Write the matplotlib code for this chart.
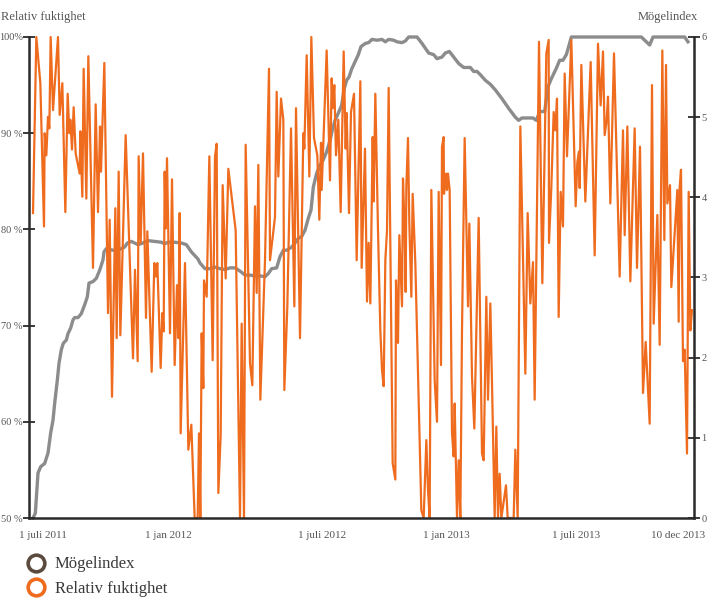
import numpy as np
import matplotlib.pyplot as plt
from matplotlib.lines import Line2D

plt.rcParams['font.family'] = ['Liberation Serif', 'DejaVu Serif']

# dagar räknat från 1 juli 2011 (ungefärlig skala)
rf_dag = [
    -15, -10, -4, 1.5, 2.5, 5, 7.5, 9.5, 11.5, 15, 22.5, 25, 29, 33.5, 37, 39.5, 41, 43.5, 46, 49,
    55, 56, 59, 61, 65, 68, 75, 79, 82.5, 85.5, 87, 92, 97.5, 100, 103.5, 108.5, 110.5, 113.5, 116, 124,
    135, 138, 142, 143.5, 146.5, 150, 154.5, 156.5, 163, 167, 169.5, 171.5, 176.5, 179, 181, 182.5, 184, 186, 190.5, 193.5,
    197.5, 201, 203, 205, 206.5, 213, 218, 222.5, 227.5,
    232, 234, 236, 238, 240.5, 241.5, 245.5, 249.5, 254.5, 258, 260.5, 263, 266.5, 269.5, 274, 278, 283, 289, 295.5, 298,
    301.5, 304, 310.5, 314, 318, 320.5, 323, 326, 333, 339, 340.5, 348, 350.5, 353, 357, 360.5, 362, 366.5, 372, 377,
    379.5, 385.5, 390.5, 392, 395.5, 399.5, 402.5, 406.5, 411.5, 414.5, 417, 418, 425.5, 430.5, 433, 434.5, 437, 439.5, 443, 446.5,
    451, 454, 455.5, 459, 462, 466.5, 470.5, 476, 478, 483,
    486, 488.5, 491, 494.5, 496, 498.5, 502.5, 506, 508.5, 511, 513.5, 516, 518.5, 524.5, 528.5, 529.5, 532.5, 534.5, 538.5, 540,
    542.5, 544, 545, 547.5, 549.5, 552.5, 554.5, 558.5, 567.5, 571, 575, 577.5, 580, 582.5, 587.5, 591, 593.5, 597, 598.5, 601,
    601.5, 604.5, 606, 607.5, 610, 613.5, 616, 617.5, 621, 623.5, 626, 628.5, 632.5, 637.5, 639.5, 643.5, 647, 653.5, 658.5, 661,
    665, 667.5, 671, 673.5, 677.5, 680, 682.5, 685, 687.5, 694.5, 697, 706, 708.5, 712, 716, 723.5, 727, 731,
    735, 737.5, 744, 749, 755, 758.5, 759, 762.5, 766, 768.5, 771, 773.5, 776.5, 780, 782.5, 786, 792.5, 799, 801.5, 804,
    805, 807.5, 813.5, 821.5, 827.5, 832.5, 836.5, 840, 842.5, 845.5, 847.5, 851, 856.5, 865, 870, 872.5, 876.5, 881, 887.5, 891,
    895.5, 900, 904, 910, 913.5, 916, 921.5, 925, 929, 932, 934.5, 936.5, 940.5, 942.5, 951.5, 953.5, 955, 957, 960, 962.5,
    966, 968.5, 971, 973.5,
]
rf_varde = [
    81.7, 100, 95.2, 80.3, 90.0, 87.7, 91.7, 90.5, 100, 92.4, 100, 91.9, 95.2, 81.8, 94.1, 90.0, 91.4, 88.3, 92.7, 87.9,
    85.8, 90.2, 83.4, 96.7, 83.2, 98.0, 76.0, 93.0, 81.8, 90.7, 86.0, 97.3, 71.3, 81.0, 62.6, 82.2, 68.7, 86.0, 69.0, 89.8,
    66.6, 75.8, 66.3, 87.6, 78.6, 87.9, 70.8, 79.8, 65.2, 76.5, 75.1, 76.5, 65.6, 71.3, 69.4, 86.0, 80.1, 87.4, 69.2, 85.2,
    65.9, 74.2, 68.7, 81.7, 58.8, 76.5, 57.1, 59.7, 50,
    50, 58.8, 50, 69.2, 63.5, 74.7, 73.0, 87.6, 66.4, 87.6, 88.9, 52.6, 58.6, 84.6, 74.9, 86.3, 83.4, 79.9, 50, 70.2,
    50, 88.8, 66.1, 63.8, 82.4, 73.4, 86.7, 62.3, 76.8, 96.7, 76.8, 81.3, 94.3, 85.5, 93.6, 91.4, 63.3, 72.0, 90.5, 72.0,
    92.6, 68.7, 90.0, 88.4, 98.1, 85.5, 100, 89.5, 87.7, 81.0, 89.0, 84.1, 98.6, 85.1, 95.7, 92.6, 95.0, 87.7, 91.4, 81.8,
    98.5, 88.4, 92.1, 81.7, 92.2, 94.1, 76.8, 95.4, 76.0, 88.4,
    72.5, 78.6, 72.3, 89.6, 82.9, 94.1, 79.9, 69.5, 65.4, 63.7, 76.8, 79.9, 94.7, 55.7, 54.0, 74.7, 68.2, 79.4, 72.0, 85.3,
    79.8, 73.5, 84.4, 89.5, 80.6, 73.0, 83.7, 76.5, 50.8, 50, 58.1, 52.9, 50, 84.1, 64.3, 60.0, 83.9, 65.9, 88.6, 89.6,
    83.7, 85.8, 84.1, 85.8, 84.1, 58.8, 56.4, 61.9, 50, 56.0, 50, 69.5, 89.5, 72.0, 80.6, 64.7, 59.3, 81.2, 56.7, 56.0,
    73.0, 62.3, 72.3, 64.0, 50, 59.5, 50, 54.6, 50, 53.4, 50, 50, 57.1, 50, 90.7, 65.0, 81.7, 72.3,
    76.6, 62.3, 99.5, 74.4, 98.3, 99.7, 78.6, 84.4, 92.2, 90.3, 93.6, 70.9, 83.9, 80.3, 96.2, 87.6, 99.7, 82.4, 87.0, 88.1,
    84.3, 97.1, 82.9, 97.4, 77.3, 99.3, 92.9, 98.5, 89.8, 91.4, 93.8, 82.7, 98.3, 75.1, 90.3, 79.4, 90.7, 74.6, 90.5, 76.0,
    88.6, 63.0, 68.3, 59.8, 95.0, 70.2, 81.5, 68.0, 98.6, 78.9, 97.1, 82.7, 84.6, 74.0, 84.1, 70.4, 84.4, 86.2, 66.3, 67.5,
    56.7, 83.9, 69.5, 71.6,
]

mi_dag = [
    -15, -11.5, -7.5, -3.5, 2.5, 7.5, 11.5, 15, 17.5, 21.5, 24, 27.5, 30.5, 35, 37.5, 41.5, 45, 47.5, 52.5, 57.5,
    62.5, 66.5, 69, 75, 80, 85, 90, 91.5, 95, 100, 105, 112.5, 117.5, 122.5, 126.5, 132.5, 137.5, 142.5, 150, 157.5,
    167.5, 177.5, 182.5, 187.5, 197.5, 207.5, 215, 222.5, 232.5,
    235.5, 243, 250.5, 258, 265.5, 273, 280.5, 288, 295.5, 303, 310.5, 318, 325.5, 333, 338, 343, 350.5, 355.5, 360.5, 365.5,
    373, 378, 383, 388, 393, 398, 402, 405.5, 410.5, 415.5, 420.5, 425.5, 430.5, 434, 438, 443, 448, 452, 455.5, 459,
    463, 468, 473, 477, 483.5, 488.5, 493.5, 501, 508.5, 513.5, 518.5, 526, 531, 538.5, 543.5, 548.5, 561, 568.5, 573.5, 578.5,
    586, 591, 598.5, 603.5, 609.5, 616, 623.5, 631, 641, 646, 651, 656, 663.5, 671, 678.5, 688.5, 698.5, 708.5, 713.5, 718.5,
    728.5, 735, 740, 745, 752.5, 757.5, 762.5, 770, 775, 780, 785, 788.5, 792.5, 817.5, 852.5, 897.5, 905, 910, 915, 927.5,
    962.5, 967.5,
]
mi_varde = [
    0.0, 0.06, 0.56, 0.64, 0.68, 0.81, 1.06, 1.22, 1.43, 1.72, 1.93, 2.10, 2.18, 2.22, 2.30, 2.37, 2.47, 2.50, 2.50, 2.55,
    2.66, 2.76, 2.93, 2.95, 2.99, 3.09, 3.22, 3.32, 3.36, 3.35, 3.34, 3.34, 3.36, 3.38, 3.43, 3.45, 3.43, 3.41, 3.43, 3.46,
    3.45, 3.44, 3.42, 3.44, 3.44, 3.43, 3.41, 3.32, 3.23,
    3.18, 3.11, 3.11, 3.13, 3.11, 3.10, 3.12, 3.12, 3.08, 3.03, 3.03, 3.02, 3.02, 3.01, 3.05, 3.11, 3.12, 3.26, 3.34, 3.34,
    3.38, 3.43, 3.49, 3.51, 3.59, 3.74, 3.84, 4.13, 4.30, 4.40, 4.47, 4.57, 4.71, 4.84, 4.96, 5.05, 5.15, 5.36, 5.46, 5.50,
    5.60, 5.69, 5.78, 5.88, 5.92, 5.93, 5.97, 5.96, 5.97, 5.94, 5.97, 5.96, 5.94, 5.93, 5.95, 6.0, 6.0, 5.92, 5.86, 5.80,
    5.78, 5.73, 5.75, 5.80, 5.82, 5.75, 5.67, 5.62, 5.62, 5.57, 5.57, 5.53, 5.46, 5.41, 5.34, 5.23, 5.11, 5.00, 4.96, 4.99,
    4.99, 4.99, 4.96, 5.07, 5.07, 5.38, 5.48, 5.61, 5.71, 5.71, 5.78, 5.88, 6.0, 6.0, 6.0, 6.0, 5.94, 5.90, 6.0, 6.0,
    6.0, 5.94,
]

x_ticks = [0, 187.5, 418.5, 604.5, 799.5, 952.5]
x_labels = ['1 juli 2011', '1 jan 2012', '1 juli 2012', '1 jan 2013', '1 juli 2013', '10 dec 2013']
rf_ticks = [50, 60, 70, 80, 90, 100]
rf_labels = ['50 %', '60 %', '70 %', '80 %', '90 %', '100%']

orange = '#ef6c1f'
grey = '#8c8c8c'
brown = '#5c4a3e'
spine_col = '#2a2a2a'
txt_col = '#555555'

fig = plt.figure(figsize=(7.08, 6.0), dpi=100)
ax = fig.add_axes([29/708, 1 - 518/600, 665/708, 481/600])
ax2 = ax.twinx()

ax2.plot(mi_dag, mi_varde, color=grey, lw=2.4, clip_on=False, solid_joinstyle='round')
ax.plot(rf_dag, rf_varde, color=orange, lw=1.6, clip_on=False)

# orange linje ovanpå den grå
ax.set_zorder(ax2.get_zorder() + 1)
ax.patch.set_visible(False)

ax.set_xlim(-21, 976.5)
ax.set_ylim(50, 100)
ax2.set_ylim(0, 6)

ax.set_yticks(rf_ticks)
ax.set_yticklabels(rf_labels)
ax2.set_yticks(range(7))
ax.set_xticks(x_ticks)
ax.set_xticklabels(x_labels)

for a in (ax, ax2):
    for s in a.spines.values():
        s.set_color(spine_col)
        s.set_linewidth(1.8)
    a.spines['top'].set_visible(False)
ax.spines['right'].set_visible(False)
ax2.spines['left'].set_visible(False)
ax2.spines['bottom'].set_visible(False)

ax.tick_params(axis='y', direction='inout', length=8, width=1.3, color=spine_col,
               labelsize=7.5, labelcolor=txt_col, pad=0.5)
ax2.tick_params(axis='y', direction='inout', length=8, width=1.3, color=spine_col,
                labelsize=7.5, labelcolor=txt_col, pad=1.5)
ax.tick_params(axis='x', length=0, labelsize=8, labelcolor=txt_col, pad=9)

fig.text(0.001, 1 - 17/600, 'Relativ fuktighet', fontsize=9, color=txt_col, ha='left', va='center')
fig.text(698/708, 1 - 17/600, 'Mögelindex', fontsize=9, color=txt_col, ha='right', va='center')

handles = [
    Line2D([], [], ls='none', marker='o', ms=12, mfc='white', mec=brown, mew=2.6),
    Line2D([], [], ls='none', marker='o', ms=12, mfc='white', mec=orange, mew=2.6),
]
fig.legend(handles, ['Mögelindex', 'Relativ fuktighet'], loc='upper left',
           bbox_to_anchor=(0.028, 1 - 548/600), frameon=False, fontsize=12,
           handlelength=1.0, handletextpad=0.6, labelspacing=0.5, borderpad=0,
           labelcolor='#3a3a3a')

fig.savefig('out.png', dpi=100)
